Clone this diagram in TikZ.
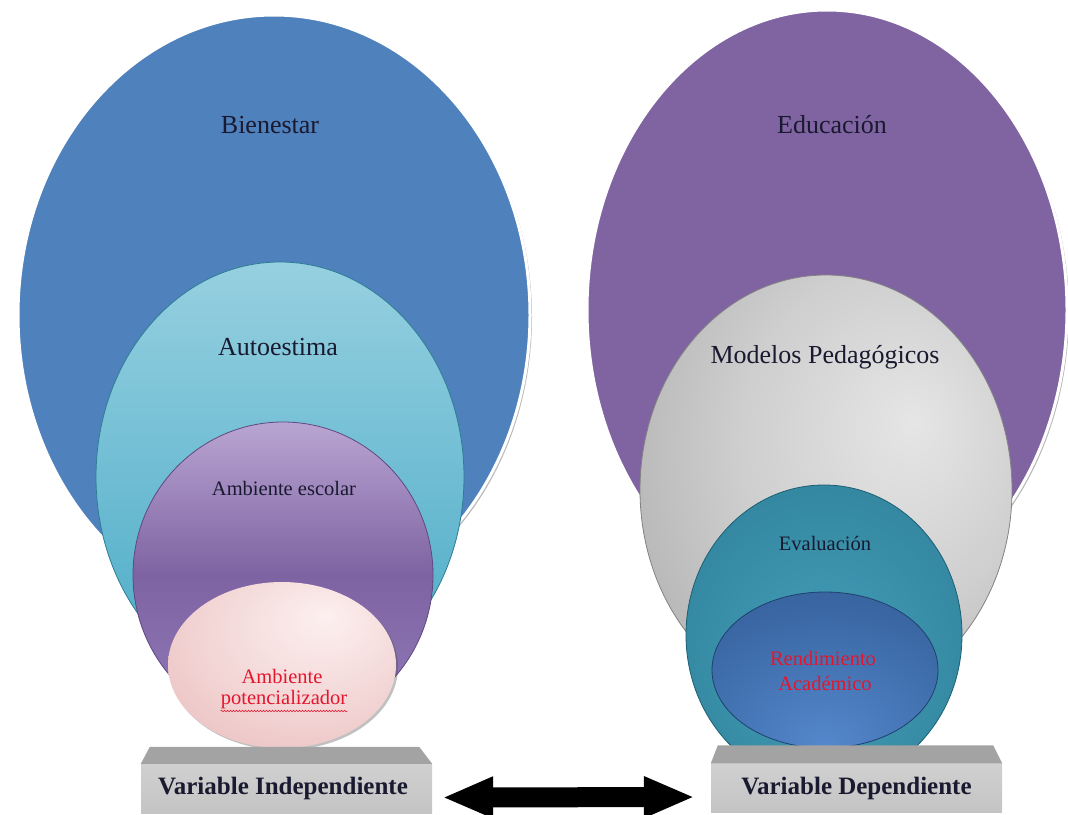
\documentclass[tikz,border=0pt]{standalone}
\usepackage{fontspec}
\setmainfont{Liberation Serif}
\usetikzlibrary{shapes.geometric,shadows,arrows.meta,decorations.pathmorphing,calc}

\definecolor{bienblue}{RGB}{79,129,189}
\definecolor{eduviolet}{RGB}{128,100,162}
\definecolor{autotop}{RGB}{150,208,224}
\definecolor{autobot}{RGB}{72,170,198}
\definecolor{autoedge}{RGB}{45,125,150}
\definecolor{esctop}{RGB}{185,165,210}
\definecolor{escmid}{RGB}{126,99,162}
\definecolor{escbot}{RGB}{145,122,184}
\definecolor{escedge}{RGB}{95,72,130}
\definecolor{modedge}{RGB}{130,130,130}
\definecolor{evaledge}{RGB}{28,95,115}
\definecolor{renedge}{RGB}{30,65,110}
\definecolor{txtc}{RGB}{25,25,48}
\definecolor{redtxt}{RGB}{228,22,45}
\definecolor{basetopc}{RGB}{163,163,163}
\definecolor{basefrontt}{RGB}{208,208,208}
\definecolor{basefrontb}{RGB}{196,196,196}

\pgfdeclareradialshading{grayball}{\pgfpoint{12bp}{8bp}}{rgb(0bp)=(0.90,0.90,0.90); rgb(20bp)=(0.81,0.81,0.81); rgb(40bp)=(0.68,0.68,0.68); rgb(55bp)=(0.58,0.58,0.58); rgb(70bp)=(0.55,0.55,0.55)}
\pgfdeclareradialshading{tealball}{\pgfpoint{0bp}{-5bp}}{rgb(0bp)=(0.27,0.62,0.72); rgb(25bp)=(0.21,0.54,0.64); rgb(50bp)=(0.17,0.47,0.56); rgb(70bp)=(0.15,0.43,0.52)}
\pgfdeclareradialshading{blueball}{\pgfpoint{0bp}{-25bp}}{rgb(0bp)=(0.33,0.53,0.80); rgb(30bp)=(0.24,0.42,0.66); rgb(55bp)=(0.18,0.34,0.56); rgb(80bp)=(0.16,0.30,0.50)}
\pgfdeclareradialshading{pinkball}{\pgfpoint{10bp}{15bp}}{rgb(0bp)=(0.99,0.94,0.94); rgb(25bp)=(0.95,0.83,0.83); rgb(50bp)=(0.90,0.70,0.70); rgb(70bp)=(0.87,0.64,0.64)}

\tikzset{
  bigell/.style={ellipse, inner sep=0pt, draw=white, line width=3pt,
    drop shadow={shadow xshift=2pt, shadow yshift=-2pt, opacity=0.4, fill=black!70}},
  inell/.style={ellipse, inner sep=0pt, line width=0.8pt},
  lbl/.style={text=txtc, font=\fontsize{26}{28}\selectfont, inner sep=0pt},
  slbl/.style={text=txtc, font=\fontsize{20.5}{23}\selectfont, inner sep=0pt},
  redlbl/.style={slbl, text=redtxt},
  basefront/.style={rectangle, inner sep=0pt, minimum width=291pt, minimum height=49pt,
    top color=basefrontt, bottom color=basefrontb, text=txtc,
    font=\bfseries\fontsize{25}{27}\selectfont},
  basetop/.style={fill=basetopc},
  bigarrow/.style={black, line width=20pt,
    {Triangle[length=51pt,width=38pt]}-{Triangle[length=51pt,width=38pt]}}
}

\begin{document}
\begin{tikzpicture}[x=1pt,y=-1pt]
\useasboundingbox (0,0) rectangle (1068,814);
\clip (0,0) rectangle (1068,814);

% ---------- left group ----------
\node[bigell, fill=bienblue, minimum width=512pt, minimum height=600pt] (bien) at (274,315) {};
\node[inell, draw=autoedge, top color=autotop, bottom color=autobot,
      minimum width=368pt, minimum height=430pt] (auto) at (280,477) {};
\node[inell, draw=escedge, top color=esctop, bottom color=escbot, middle color=escmid,
      minimum width=300pt, minimum height=306pt] (esc) at (283,575) {};
\node[inell, shade, shading=pinkball, shading angle=0,
      drop shadow={shadow xshift=2pt, shadow yshift=-2pt, opacity=0.35, fill=black!70},
      minimum width=228pt, minimum height=166pt] (pot) at (282,665) {};

\node[lbl] (tbien) at (270,125) {Bienestar};
\node[lbl] (tauto) at (278,347) {Autoestima};
\node[slbl] (tesc) at (284,488) {Ambiente escolar};
\node[redlbl] (tamb) at (282,676) {Ambiente};
\node[redlbl] (tpot) at (284,700) {potencializador};
\draw[redtxt, line width=0.6pt, decorate, decoration={snake, amplitude=0.7pt, segment length=3pt}]
  ([yshift=-1.5pt]tpot.south west) -- ([yshift=-1.5pt]tpot.south east);

% ---------- right group ----------
\node[bigell, fill=eduviolet, minimum width=480pt, minimum height=600pt] (edu) at (827,310) {};
\node[inell, draw=modedge, shade, shading=grayball, shading angle=0,
      minimum width=372pt, minimum height=430pt] (mod) at (826,490) {};
\node[inell, draw=evaledge, shade, shading=tealball, shading angle=0,
      minimum width=276pt, minimum height=300pt] (eva) at (824,635) {};
\node[inell, draw=renedge, shade, shading=blueball, shading angle=0,
      minimum width=226pt, minimum height=156pt] (ren) at (825,670) {};

\node[lbl] (tedu) at (832,125) {Educación};
\node[lbl] (tmod) at (825,357) {Modelos Pedagógicos};
\node[slbl] (teva) at (825,543) {Evaluación};
\node[redlbl] (tren) at (823,658) {Rendimiento};
\node[redlbl] (taca) at (825,683) {Académico};

% ---------- bases ----------
\node[basefront] (indep) at (286.5,788.5) {\hspace*{-7pt}Variable Independiente};
\fill[basetop] (indep.north west) -- ([xshift=9pt,yshift=17pt]indep.north west)
  -- ([xshift=-13pt,yshift=17pt]indep.north east) -- (indep.north east) -- cycle;

\node[basefront] (dep) at (856.5,788) {Variable Dependiente};
\fill[basetop] (dep.north west) -- ([xshift=7pt,yshift=18pt]dep.north west)
  -- ([xshift=-9pt,yshift=18pt]dep.north east) -- (dep.north east) -- cycle;

% ---------- arrow ----------
\draw[bigarrow, shorten <=10pt, shorten >=16pt]
  ([yshift=-9pt]indep.east) -- ([yshift=-9pt]dep.west);
\end{tikzpicture}
\end{document}
